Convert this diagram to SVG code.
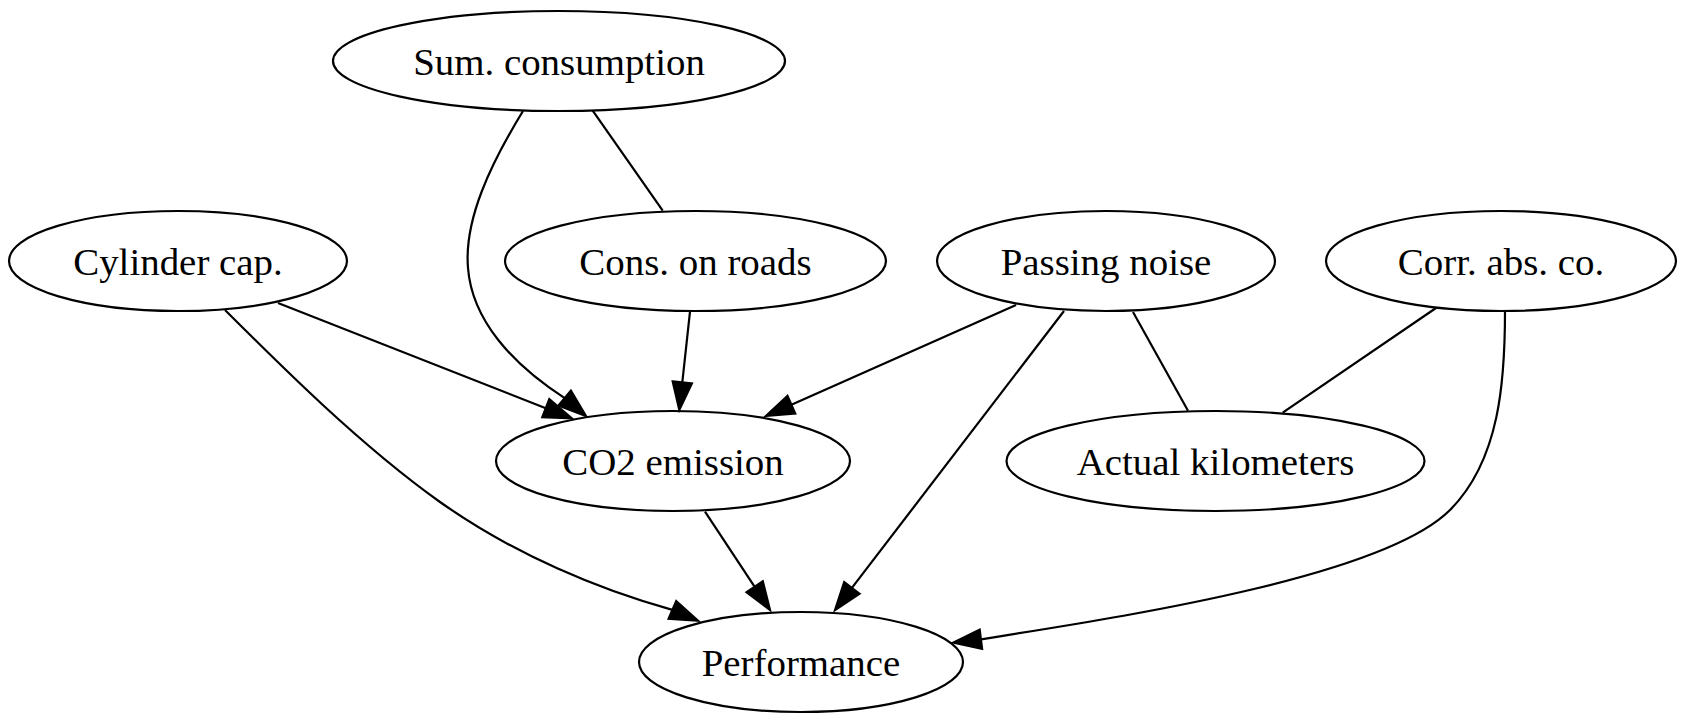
<svg xmlns="http://www.w3.org/2000/svg" width="1688" height="722" viewBox="0 0 1688 722">
<style>
.node ellipse{fill:none;stroke:#000;stroke-width:2.2}
.node text{font-family:"Liberation Serif","Times New Roman",serif;font-size:38.9px;text-anchor:middle;fill:#000}
.edge path{fill:none;stroke:#000;stroke-width:2.2}
.edge polygon{fill:#000;stroke:#000;stroke-width:2.2}
</style>
<rect width="1688" height="722" fill="#fff"/>
<g id="edges">
<g class="edge"><path d="M523,111 C490,165 464,220 468,268 C472,320 512,364 564.7,398.1"/><polygon points="558.5,405.5 570.9,390.7 586,416"/></g>
<g class="edge"><path d="M592.7,110.7 L662.7,210.7"/></g>
<g class="edge"><path d="M278,303 L545.8,408.2"/><polygon points="542.3,417.2 549.3,399.2 571.7,418.3"/></g>
<g class="edge"><path d="M225,310 C280,365 360,445 440,502 C515,555 600,590 672.4,609.9"/><polygon points="668.6,618.8 676.2,601 698,620.7"/></g>
<g class="edge"><path d="M690,311.7 L682.3,382.4"/><polygon points="672.7,381.4 691.9,383.5 679.3,410"/></g>
<g class="edge"><path d="M1016,305 L791.4,404.7"/><polygon points="795.3,413.6 787.5,395.8 766,416"/></g>
<g class="edge"><path d="M1064,311 L851.9,587.9"/><polygon points="859.6,593.8 844.2,582 835,610"/></g>
<g class="edge"><path d="M1133,312 L1188,410.7"/></g>
<g class="edge"><path d="M1436,308 L1282.7,412.7"/></g>
<g class="edge"><path d="M1505,311 C1505,380 1500,460 1450,510 C1380,580 1100,620 980.9,639.3"/><polygon points="982.1,648.9 979.7,629.7 953.3,642.7"/></g>
<g class="edge"><path d="M705,511.7 L754.7,586.8"/><polygon points="746.6,592.2 762.8,581.4 770,610"/></g>
</g>
<g id="sum_consumption" class="node"><ellipse cx="559" cy="61" rx="226" ry="50"/><text x="559" y="75">Sum. consumption</text></g>
<g id="cylinder_cap" class="node"><ellipse cx="178" cy="261" rx="169" ry="50"/><text x="178" y="275">Cylinder cap.</text></g>
<g id="cons_on_roads" class="node"><ellipse cx="695.5" cy="261" rx="190.5" ry="50"/><text x="695.5" y="275">Cons. on roads</text></g>
<g id="passing_noise" class="node"><ellipse cx="1106" cy="261" rx="169" ry="50"/><text x="1106" y="275">Passing noise</text></g>
<g id="corr_abs_co" class="node"><ellipse cx="1501" cy="261" rx="175" ry="50"/><text x="1501" y="275">Corr. abs. co.</text></g>
<g id="co2_emission" class="node"><ellipse cx="673" cy="461" rx="177" ry="50"/><text x="673" y="475">CO2 emission</text></g>
<g id="actual_kilometers" class="node"><ellipse cx="1215.5" cy="461" rx="209" ry="50"/><text x="1215.5" y="475">Actual kilometers</text></g>
<g id="performance" class="node"><ellipse cx="801" cy="662" rx="162" ry="50"/><text x="801" y="676">Performance</text></g>
</svg>
